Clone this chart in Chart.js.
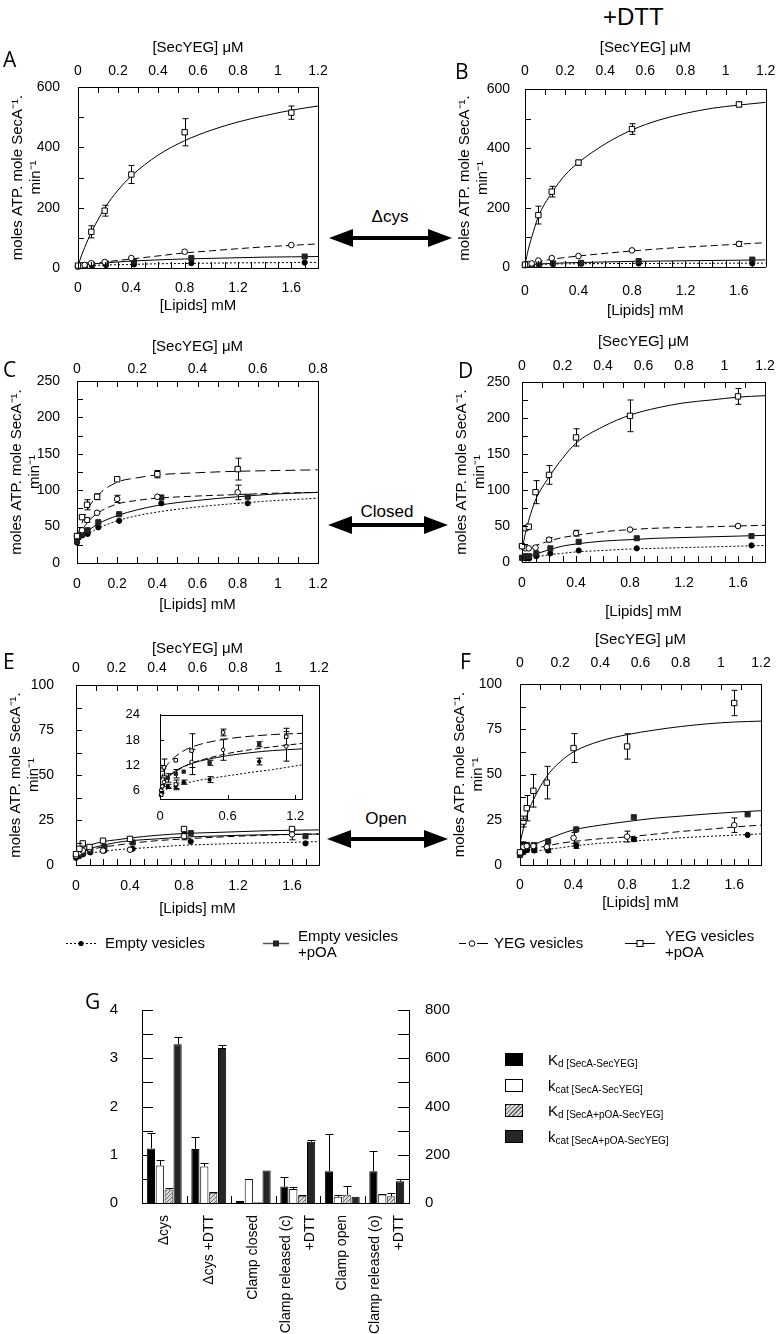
<!DOCTYPE html>
<html><head><meta charset="utf-8">
<script src="https://cdn.jsdelivr.net/npm/chart.js@4/dist/chart.umd.min.js"></script>
<style>
body{margin:0;background:#fff;width:777px;height:1334px;position:relative;overflow:hidden;font-family:'Liberation Sans',Arial,sans-serif;color:#000}
canvas{position:absolute}
.t{position:absolute;white-space:nowrap;line-height:1}
.let{position:absolute;font-family:'Open Sans','Liberation Sans',sans-serif;font-size:21px;line-height:1}
.lg{position:absolute;font-size:15px;line-height:16px;white-space:nowrap}
.gl{position:absolute;left:548px;white-space:nowrap;line-height:1}
.gl .b{font-size:15px}.gl sub{font-size:10px;vertical-align:-2px}
.sq{position:absolute;left:505px;width:18px;height:13px;box-sizing:border-box;border:1px solid #000}
</style></head><body>
<script>
// ---------- shared x values ----------
const xEmpty = [0, 0.027, 0.053, 0.106, 0.21, 0.42, 0.85, 1.7];
const xYEG   = [0, 0.025, 0.05, 0.1, 0.2, 0.4, 0.8, 1.6];
const fitX   = [0, 0.025, 0.05, 0.1, 0.2, 0.3, 0.4, 0.6, 0.8, 1.0, 1.2, 1.4, 1.6, 1.8];

// ---------- Panel A ----------
const aEmpty = [5, 6, 7, 8, 10, 12, 16, 18];
const aEmptyPOA = [6, 8, 9, 11, 15, 22, 33, 38];
const aYEG = [5, 8, 10, 16, 20, 33, 54, 76];
const aYEGPOA = [8, null, null, 120, 190, 310, 450, 515];
const aYEGPOAErr = [0, 0, 0, 20, 18, 30, 45, 22];
const aFitEmpty = [5, 6, 7, 8, 10, 11, 12, 14, 15, 16, 17, 17.5, 18, 18.5];
const aFitEmptyPOA = [6, 8, 10, 13, 17, 20, 23, 27, 30, 32, 34, 36, 37, 38];
const aFitYEG = [5, 7, 9, 13, 20, 25, 30, 40, 50, 57, 64, 70, 75, 80];
const aFitYEGPOA = [8, 40, 68, 118, 198, 258, 305, 374, 422, 457, 484, 505, 523, 537];

// ---------- Panel B ----------
const bEmpty = [6, 7, 8, 9, 10, 11, 12, 12];
const bEmptyPOA = [6, 7, 8, 10, 12, 14, 20, 25];
const bYEG = [8, 10, 12, 22, 30, 37, 56, 78];
const bYEGErr = [0, 0, 0, 0, 0, 0, 0, 8];
const bYEGPOA = [8, null, null, 175, 254, 352, 465, 548];
const bYEGPOAErr = [0, 0, 0, 30, 18, 8, 18, 8];
const bFitEmpty = [6, 7, 8, 9, 10, 10.5, 11, 11.5, 12, 12, 12.5, 12.5, 13, 13];
const bFitEmptyPOA = [6, 7, 8, 10, 12, 14, 15, 17, 19, 20, 21, 22, 23, 24];
const bFitYEG = [8, 10, 13, 18, 26, 32, 37, 46, 54, 61, 67, 72, 77, 82];
const bFitYEGPOA = [8, 60, 100, 170, 250, 310, 352, 415, 462, 495, 518, 535, 546, 555];

// ---------- Panel C ----------
const cEmpty = [28, 38, 40, 49, 58, 82, 82, null];
const cEmptyPOA = [30, 40, 45, 56, 67, 90, 91, null];
const cYEG = [37, 45, 59, 69, 88, 91, 97, null];
const cYEGErr = [0, 0, 3, 0, 5, 0, 10, 0];
const cYEGPOA = [37, 63, 80, 91, 115, 122, 129, null];
const cYEGPOAErr = [0, 0, 7, 4, 0, 5, 15, 0];
const cFitEmpty = [28, 34, 39, 47, 58, 65, 70, 77, 82, 86, 89];
const cFitEmptyPOA = [28, 36, 43, 53, 65, 73, 79, 86, 91, 95, 97];
const cFitYEG = [35, 45, 55, 68, 81, 86, 89, 92, 94, 96, 97];
const cFitYEGPOA = [35, 55, 72, 92, 111, 117, 121, 124, 126, 127, 128];

// ---------- Panel D ----------
const dEmpty = [5, 5, 5, 8, 12, 16, 19, 23];
const dEmptyPOA = [6, 8, 8, 12, 19, 28, 33, 36];
const dYEG = [22, 19, 19, 20, 31, 40, 45, 50];
const dYEGErr = [0, 0, 0, 0, 3, 4, 0, 0];
const dYEGPOA = [22, 47, 49, 97, 121, 173, 203, 230];
const dYEGPOAErr = [0, 0, 0, 16, 13, 12, 22, 11];
const dFitEmpty = [4, 5, 6, 7, 10, 12, 14, 16, 18, 19, 20, 21, 22, 23];
const dFitEmptyPOA = [6, 7, 8, 11, 17, 22, 25, 29, 31, 33, 34, 35, 36, 37];
const dFitYEG = [18, 19, 20, 23, 29, 34, 37, 42, 45, 47, 48, 49, 50, 51];
const dFitYEGPOA = [17, 40, 58, 86, 118, 144, 165, 188, 204, 214, 221, 225, 229, 231];

// ---------- Panel E ----------
const eEmpty = [4, 5, 6, 7, 8, 9, 13, 12];
const eEmptyPOA = [5, 6, 7, 8, 10, 12.5, 17.7, 16];
const eYEG = [5, 7, 8, 9, 8, 8.5, 16, 17];
const eYEGErr = [0, 0, 0, 0, 0, 0, 2, 3];
const eYEGPOA = [6, 9, 12, 10, 13.5, 14.5, 20, 20];
const eFitEmpty = [4, 5, 5.5, 6.5, 7.5, 8.5, 9, 10, 11, 11.5, 12, 12.3, 12.6, 13];
const eFitEmptyPOA = [5, 6.5, 7.5, 9, 11, 12.5, 13.5, 14.5, 15.5, 16, 16.5, 16.8, 17, 17.2];
const eFitYEG = [5, 6.5, 7.5, 8.5, 10, 11, 12, 13.5, 14.5, 15.3, 16, 16.5, 17, 17.2];
const eFitYEGPOA = [6, 8, 9.5, 11, 13, 14, 15, 16.5, 17.5, 18, 18.5, 19, 19.3, 19.5];

// ---------- Panel E inset ----------
const insetYTicks = [6, 12, 18, 24];
const insetXTicks = [0, 0.6, 1.2];
const insetFitX = [0, 0.05, 0.1, 0.2, 0.3, 0.4, 0.6, 0.8, 1.0, 1.26];
const insetFitYEGPOA = [8, 11.5, 13.2, 15.3, 16.5, 17.3, 18.3, 18.9, 19.3, 19.6];
const insetFitEmptyPOA = [6, 8.5, 9.8, 11.5, 12.7, 13.5, 14.8, 15.7, 16.4, 17.2];
const insetFitYEG = [6, 8.8, 10, 11.6, 12.6, 13.3, 14.3, 15, 15.5, 15.9];
const insetFitEmpty = [5, 6.2, 6.8, 7.6, 8.2, 8.7, 9.5, 10.3, 11, 12.1];
const insetXOpen = [0.01, 0.02, 0.035, 0.14, 0.28, 0.56, 1.12];
const insetYEGPOA = [5, 11, 11.5, 13.2, 15.5, 19.8, 18.8];
const insetYEGPOAErr = [0, 0, 2, 0, 4, 0.8, 2];
const insetYEG = [6, 7, 8, 7.5, 12.8, 15.7, 16.5];
const insetYEGErr = [0, 0, 1, 1, 3, 2.5, 3.5];
const insetXFilled = [0.01, 0.02, 0.07, 0.14, 0.21, 0.44, 0.88];
const insetEmptyPOA = [6, 7, 9, 10, 10.5, 12.6, 17];
const insetEmptyPOAErr = [0, 0, 1, 1, 0, 0.6, 0.6];
const insetEmpty = [5, 5.5, 7, 7, 8, 8.6, 12.9];
const insetEmptyErr = [0, 0, 0.5, 0.8, 0.5, 0.7, 0.8];

// ---------- Panel F ----------
const fEmpty = [6.5, 7, 8.3, 8, 8, 10.7, 14.2, 16.6];
const fEmptyErr = [0, 0, 0, 1, 1, 1.5, 1, 0];
const fEmptyPOA = [5.5, 11.4, 11, 11, 13, 19.7, 26.4, 28];
const fYEG = [7, 10, 10.5, 10.5, 10, 15, 15.7, 22];
const fYEGErr = [0, 0, 0, 1, 1, 3, 3, 4];
const fYEGPOA = [7, 24, 31.4, 41, 45.5, 64.6, 65.5, 89.5];
const fYEGPOAErr = [0, 3, 7, 9, 9, 8, 7, 7];
const fFitEmpty = [6, 6.5, 7, 7.5, 8.5, 9.5, 10.5, 12, 13, 14, 15, 15.8, 16.5, 17.2];
const fFitEmptyPOA = [6, 7.5, 9, 11, 14.2, 17, 19.4, 22, 24, 25.8, 27, 28.2, 29.2, 30];
const fFitYEG = [7, 7.5, 8, 9, 10.5, 12, 13, 14.5, 15.5, 17, 18.5, 19.7, 21, 22];
const fFitYEGPOA = [12, 20, 27, 36, 49, 57, 62.5, 68.5, 72, 74.5, 76.5, 78, 79, 79.5];

// ---------- Panel G ----------
const gCategories = ['\u0394cys', '\u0394cys +DTT', 'Clamp closed', ['Clamp released (c)', '+DTT'], 'Clamp open', ['Clamp released (o)', '+DTT']];
const gKd = [1.13, 1.12, 0.04, 0.34, 0.66, 0.66];
const gKdErr = [1.45, 1.37, null, 0.54, 1.43, 1.07];
const gKcat = [155, 151, 100, 58, 26, 35];
const gKcatErr = [177, 166, null, 68, 32, 39];
const gKdPOA = [0.28, 0.21, 0.02, 0.15, 0.17, 0.14];
const gKdPOAErr = [0.31, 0.22, null, 0.16, 0.35, 0.21];
const gKcatPOA = [658, 642, 135, 254, 26, 90];
const gKcatPOAErr = [688, 656, null, 262, null, 100];

// ================= drawing =================
const FAM = "'Liberation Sans', Arial, sans-serif";
Chart.defaults.font.family = FAM;
Chart.defaults.color = '#000';

function tickLoop(sc, step, f) {
  if (!sc || !step) return;
  if (Array.isArray(step)) { step.forEach(f); return; }
  const n = Math.round((sc.max - sc.min) / step + 1e-6);
  for (let i = 0; i <= n; i++) f(sc.min + i * step);
}
const framePlugin = {
  id: 'frame',
  afterDatasetsDraw(chart, args, o) {
    const { ctx, chartArea: a, scales: s } = chart;
    ctx.save(); ctx.strokeStyle = '#000'; ctx.lineWidth = 1;
    ctx.beginPath();
    ctx.moveTo(Math.round(a.right) + 0.5, a.top); ctx.lineTo(Math.round(a.right) + 0.5, a.bottom);
    if (o.top) { ctx.moveTo(a.left, Math.round(a.top) + 0.5); ctx.lineTo(a.right, Math.round(a.top) + 0.5); }
    const L = o.len || 6, m = o.minor || {};
    tickLoop(s.x, m.x, v => { const p = Math.round(s.x.getPixelForValue(v)) + 0.5; ctx.moveTo(p, a.bottom); ctx.lineTo(p, a.bottom - L); });
    tickLoop(s.x2, m.x2, v => { const p = Math.round(s.x2.getPixelForValue(v)) + 0.5; ctx.moveTo(p, a.top); ctx.lineTo(p, a.top + L); });
    tickLoop(s.y, m.y, v => { const p = Math.round(s.y.getPixelForValue(v)) + 0.5; ctx.moveTo(a.left, p); ctx.lineTo(a.left + L, p); });
    ctx.stroke(); ctx.restore();
  }
};
const errPlugin = {
  id: 'errbars',
  beforeDatasetsDraw(chart) {
    const ctx = chart.ctx; ctx.save(); ctx.strokeStyle = '#000'; ctx.lineWidth = 1;
    chart.data.datasets.forEach((ds, i) => {
      const meta = chart.getDatasetMeta(i); const ys = chart.scales[meta.yAxisID];
      if (ds.err) ds.data.forEach((p, j) => {
        const e = ds.err[j]; if (!e || p.y == null) return;
        const x = Math.round(meta.data[j].x) + 0.5;
        const t = ys.getPixelForValue(p.y + e), b = ys.getPixelForValue(p.y - e);
        ctx.beginPath(); ctx.moveTo(x, t); ctx.lineTo(x, b);
        ctx.moveTo(x - 3, t); ctx.lineTo(x + 3, t); ctx.moveTo(x - 3, b); ctx.lineTo(x + 3, b); ctx.stroke();
      });
      if (ds.errTop) ds.data.forEach((v, j) => {
        const e = ds.errTop[j]; if (e == null) return;
        const el = meta.data[j]; const x = Math.round(el.x) + 0.5;
        const t = Math.round(ys.getPixelForValue(e)) + 0.5, b = ys.getPixelForValue(v);
        ctx.beginPath(); ctx.moveTo(x, b); ctx.lineTo(x, t); ctx.moveTo(x - 4, t); ctx.lineTo(x + 4, t); ctx.stroke();
      });
    });
    ctx.restore();
  }
};

const STY = {
  empty:    { ps: 'circle', r: 2.6, bg: '#000', bc: '#000', dash: [2, 2] },
  emptyPOA: { ps: 'rect',   r: 3.6, bg: '#222', bc: '#222', dash: [] },
  yeg:      { ps: 'circle', r: 2.8, bg: '#fff', bc: '#000', dash: [7, 4] },
  yegPOA:   { ps: 'rect',   r: 3.8, bg: '#fff', bc: '#000', dash: [] }
};
function sets(st, xs, ys, err, fxs, fys, dash) {
  const s = STY[st];
  return [
    { data: ys.map((y, i) => ({ x: xs[i], y: y })), err: err || null, showLine: false, clip: false,
      pointStyle: s.ps, pointRadius: s.r, pointBackgroundColor: s.bg, pointBorderColor: s.bc, pointBorderWidth: 1, order: 0 },
    { data: fys.map((y, i) => ({ x: fxs[i], y: y })), showLine: true, pointRadius: 0, borderColor: '#000', borderWidth: 1,
      borderDash: dash || s.dash, cubicInterpolationMode: 'monotone', fill: false, order: 1 }
  ];
}
const fmt = v => String(+(+v).toFixed(2));

function mkCanvas(l, t, w, h) {
  const c = document.createElement('canvas');
  c.width = w; c.height = h;
  c.style.left = l + 'px'; c.style.top = t + 'px'; c.style.width = w + 'px'; c.style.height = h + 'px';
  document.body.appendChild(c); return c;
}

function panel(cfg) {
  const a = cfg.area;
  const l = a.l - 78, t = a.t - (cfg.tt + 14), r = a.r + cfg.pr, b = a.b + cfg.bt + 14;
  const c = mkCanvas(l, t, r - l, b - t);
  const TF = { family: FAM, size: 14 }, HF = { family: FAM, size: 15 };
  new Chart(c, {
    type: 'scatter',
    data: { datasets: cfg.ds },
    options: {
      responsive: false, animation: false, devicePixelRatio: 1, events: [],
      layout: { padding: { left: 0, top: 0, right: cfg.pr, bottom: 0 } },
      plugins: { legend: { display: false }, tooltip: { enabled: false }, frame: { minor: cfg.minor } },
      scales: {
        x: { type: 'linear', position: 'bottom', min: 0, max: cfg.xMax, grid: { display: false }, border: { color: '#000' },
             ticks: { stepSize: cfg.xStep, includeBounds: false, font: TF, color: '#000', padding: (cfg.bl - 10) / 2, maxRotation: 0, callback: fmt },
             title: { display: true, text: '[Lipids] mM', font: HF, color: '#000', padding: { top: 0, bottom: 5 } },
             afterFit: s => { s.height = cfg.bt + 14; } },
        x2: { type: 'linear', position: 'top', min: 0, max: cfg.x2Max, grid: { display: false }, border: { color: '#000' },
             ticks: { stepSize: cfg.x2Step, includeBounds: false, font: TF, color: '#000', padding: cfg.tl - 17.4, maxRotation: 0, callback: fmt },
             title: { display: true, text: '[SecYEG] \u03bcM', font: HF, color: '#000', padding: { top: 5, bottom: 0 } },
             afterFit: s => { s.height = cfg.tt + 14; } },
        y: { type: 'linear', position: 'left', min: 0, max: cfg.yMax, grid: { display: false }, border: { color: '#000' },
             ticks: { stepSize: cfg.yStep, font: TF, color: '#000', padding: cfg.yp, callback: fmt },
             title: { display: true, text: ['moles ATP. mole SecA\u207b\u00b9.', 'min\u207b\u00b9'], font: HF, color: '#000', padding: { top: 9, bottom: 0 } },
             afterFit: s => { s.width = 78; } }
      }
    },
    plugins: [framePlugin, errPlugin]
  });
}

const std = (E, EP, Y, YP, fE, fEP, fY, fYP, errs, yDash) => [
  ...sets('yegPOA', xYEG, YP, errs.YP, fitX, fYP, yDash && yDash.YP),
  ...sets('yeg', xYEG, Y, errs.Y, fitX, fY),
  ...sets('emptyPOA', xEmpty, EP, errs.EP, fitX, fEP),
  ...sets('empty', xEmpty, E, errs.E, fitX, fE)
];

panel({ area: { l: 78, t: 87, r: 318, b: 268 }, tt: 39, tl: 17, bl: 18, bt: 38, yp: 10, pr: 27,
  xMax: 1.8, xStep: 0.4, x2Max: 1.2, x2Step: 0.2, yMax: 600, yStep: 200, minor: { x: 0.1, x2: 0.1, y: 100 },
  ds: std(aEmpty, aEmptyPOA, aYEG, aYEGPOA, aFitEmpty, aFitEmptyPOA, aFitYEG, aFitYEGPOA, { YP: aYEGPOAErr }) });
panel({ area: { l: 525, t: 89, r: 766, b: 267 }, tt: 41, tl: 19, bl: 26, bt: 44, yp: 7, pr: 11,
  xMax: 1.8, xStep: 0.4, x2Max: 1.2, x2Step: 0.2, yMax: 600, yStep: 200, minor: { x: 0.1, x2: 0.1, y: 100 },
  ds: std(bEmpty, bEmptyPOA, bYEG, bYEGPOA, bFitEmpty, bFitEmptyPOA, bFitYEG, bFitYEGPOA, { YP: bYEGPOAErr, Y: bYEGErr }) });
panel({ area: { l: 77, t: 381, r: 318, b: 563 }, tt: 34, tl: 13, bl: 20, bt: 42, yp: 9, pr: 27,
  xMax: 1.2, xStep: 0.2, x2Max: 0.8, x2Step: 0.2, yMax: 250, yStep: 50, minor: { x: 0.1, x2: 0.2 / 3, y: 25 },
  ds: std(cEmpty, cEmptyPOA, cYEG, cYEGPOA, cFitEmpty, cFitEmptyPOA, cFitYEG, cFitYEGPOA, { YP: cYEGPOAErr, Y: cYEGErr }, { YP: [10, 5] }) });
panel({ area: { l: 522, t: 382, r: 765, b: 562 }, tt: 40, tl: 17, bl: 19, bt: 50, yp: 4, pr: 12,
  xMax: 1.8, xStep: 0.4, x2Max: 1.2, x2Step: 0.2, yMax: 250, yStep: 50, minor: { x: 0.1, x2: 0.1, y: 25 },
  ds: std(dEmpty, dEmptyPOA, dYEG, dYEGPOA, dFitEmpty, dFitEmptyPOA, dFitYEG, dFitYEGPOA, { YP: dYEGPOAErr, Y: dYEGErr }) });
panel({ area: { l: 76, t: 685, r: 319, b: 865 }, tt: 36, tl: 18, bl: 20, bt: 44, yp: 14, pr: 27,
  xMax: 1.8, xStep: 0.4, x2Max: 1.2, x2Step: 0.2, yMax: 100, yStep: 25, minor: { x: 0.1, x2: 0.1, y: 12.5 },
  ds: std(eEmpty, eEmptyPOA, eYEG, eYEGPOA, eFitEmpty, eFitEmptyPOA, eFitYEG, eFitYEGPOA, { Y: eYEGErr }) });
panel({ area: { l: 520, t: 684, r: 761, b: 865 }, tt: 44, tl: 22, bl: 17, bt: 38, yp: 10, pr: 16,
  xMax: 1.8, xStep: 0.4, x2Max: 1.2, x2Step: 0.2, yMax: 100, yStep: 25, minor: { x: 0.1, x2: 0.1, y: 12.5 },
  ds: std(fEmpty, fEmptyPOA, fYEG, fYEGPOA, fFitEmpty, fFitEmptyPOA, fFitYEG, fFitYEGPOA, { YP: fYEGPOAErr, Y: fYEGErr, E: fEmptyErr }) });

// ----- inset of E -----
(function () {
  const area = { l: 160, t: 703, r: 302, b: 799 };
  const c = mkCanvas(area.l - 40, area.t - 8, (area.r + 8) - (area.l - 40), (area.b + 31) - (area.t - 8));
  const TF = { family: FAM, size: 13 };
  const ds = [
    ...sets('yegPOA', insetXOpen, insetYEGPOA, insetYEGPOAErr, insetFitX, insetFitYEGPOA, [9, 4]),
    ...sets('yeg', insetXOpen, insetYEG, insetYEGErr, insetFitX, insetFitYEG, []),
    ...sets('emptyPOA', insetXFilled, insetEmptyPOA, insetEmptyPOAErr, insetFitX, insetFitEmptyPOA, [6, 3]),
    ...sets('empty', insetXFilled, insetEmpty, insetEmptyErr, insetFitX, insetFitEmpty)
  ];
  ds.forEach(d => { if (d.pointRadius) d.pointRadius = d.pointRadius * 0.65; });
  new Chart(c, {
    type: 'scatter', data: { datasets: ds },
    options: {
      responsive: false, animation: false, devicePixelRatio: 1, events: [],
      layout: { padding: { left: 0, top: 8, right: 8, bottom: 0 } },
      plugins: { legend: { display: false }, tooltip: { enabled: false }, frame: { top: true, len: 4, minor: { x: insetXTicks, y: insetYTicks } } },
      scales: {
        x: { type: 'linear', min: 0, max: 1.26, grid: { display: false }, border: { color: '#000' },
             afterBuildTicks: s => { s.ticks = insetXTicks.map(v => ({ value: v })); },
             ticks: { font: TF, color: '#000', padding: 2, maxRotation: 0, callback: fmt }, afterFit: s => { s.height = 31; } },
        y: { type: 'linear', min: 4, max: 24, grid: { display: false }, border: { color: '#000' },
             afterBuildTicks: s => { s.ticks = insetYTicks.map(v => ({ value: v })); },
             ticks: { font: TF, color: '#000', padding: 12, callback: fmt }, afterFit: s => { s.width = 40; } }
      }
    },
    plugins: [framePlugin, errPlugin]
  });
})();

// ----- Panel G -----
(function () {
  const pc = document.createElement('canvas'); pc.width = pc.height = 4;
  const px = pc.getContext('2d'); px.fillStyle = '#d8d8d8'; px.fillRect(0, 0, 4, 4);
  px.strokeStyle = '#666'; px.lineWidth = 1; px.beginPath();
  px.moveTo(-1, 1); px.lineTo(1, -1); px.moveTo(0, 4); px.lineTo(4, 0); px.moveTo(3, 5); px.lineTo(5, 3); px.stroke();
  const hatch = px.createPattern(pc, 'repeat');

  const c = mkCanvas(60, 985, 420, 349);
  const gDecor = {
    id: 'gDecor',
    afterDraw(chart) {
      const { ctx, chartArea: a, scales: { x, y, y2 } } = chart;
      ctx.save(); ctx.strokeStyle = '#000'; ctx.lineWidth = 1; ctx.beginPath();
      tickLoop(y, 0.5, v => { const p = Math.round(y.getPixelForValue(v)) + 0.5; ctx.moveTo(a.left, p); ctx.lineTo(a.left + 11, p); });
      tickLoop(y2, 100, v => { const p = Math.round(y2.getPixelForValue(v)) + 0.5; ctx.moveTo(a.right, p); ctx.lineTo(a.right - 11, p); });
      for (let i = 0; i < gCategories.length - 1; i++) {
        const p = Math.round((x.getPixelForValue(i) + x.getPixelForValue(i + 1)) / 2) + 0.5;
        ctx.moveTo(p, a.bottom); ctx.lineTo(p, a.bottom - 7);
      }
      ctx.stroke();
      ctx.fillStyle = '#000'; ctx.font = '14px ' + FAM; ctx.textAlign = 'right'; ctx.textBaseline = 'middle';
      gCategories.forEach((lab, i) => {
        const lines = Array.isArray(lab) ? lab : [lab];
        const cx = x.getPixelForValue(i);
        lines.forEach((ln, j) => {
          const lx = cx + (j - (lines.length - 1) / 2) * 24;
          ctx.save(); ctx.translate(lx, a.bottom + 12); ctx.rotate(-Math.PI / 2); ctx.fillText(ln, 0, 0); ctx.restore();
        });
      });
      const drawRich = (cxp, cyp, parts) => {
        ctx.save(); ctx.translate(cxp, cyp); ctx.rotate(-Math.PI / 2); ctx.textAlign = 'left'; ctx.textBaseline = 'alphabetic';
        let tot = 0; parts.forEach(p => { ctx.font = p[1] + 'px ' + FAM; p.w = ctx.measureText(p[0]).width; tot += p.w; });
        let xx = -tot / 2;
        parts.forEach(p => { ctx.font = p[1] + 'px ' + FAM; ctx.fillText(p[0], xx, 5 + (p[2] || 0)); xx += p.w; });
        ctx.restore();
      };
      drawRich(107, 1110, [['K', 16], ['d', 11, 3], [' (\u03bcM)', 16]]);
      drawRich(468, 1117, [['k', 16], ['cat', 11, 3], ['(moles ATP. mole SecA', 16], ['-1', 10, -6], ['. min', 16], ['-1', 10, -6], [')', 16]]);
      ctx.restore();
    }
  };
  new Chart(c, {
    type: 'bar',
    data: { labels: gCategories, datasets: [
      { data: gKd, errTop: gKdErr, yAxisID: 'y', backgroundColor: '#000', borderColor: '#000', borderWidth: 1 },
      { data: gKcat, errTop: gKcatErr, yAxisID: 'y2', backgroundColor: '#fff', borderColor: '#000', borderWidth: 1 },
      { data: gKdPOA, errTop: gKdPOAErr, yAxisID: 'y', backgroundColor: hatch, borderColor: '#333', borderWidth: 1 },
      { data: gKcatPOA, errTop: gKcatPOAErr, yAxisID: 'y2', backgroundColor: '#262626', borderColor: '#000', borderWidth: 1 }
    ] },
    options: {
      responsive: false, animation: false, devicePixelRatio: 1, events: [],
      categoryPercentage: 0.8, barPercentage: 0.92,
      layout: { padding: { left: 0, top: 12, right: 0, bottom: 0 } },
      plugins: { legend: { display: false }, tooltip: { enabled: false } },
      scales: {
        x: { grid: { display: false }, border: { color: '#000' }, ticks: { display: false }, afterFit: s => { s.height = 131; } },
        y: { position: 'left', min: 0, max: 4, grid: { display: false }, border: { color: '#000' },
             ticks: { stepSize: 1, font: { family: FAM, size: 15 }, color: '#000', padding: 16 }, afterFit: s => { s.width = 82; } },
        y2: { position: 'right', min: 0, max: 800, grid: { display: false }, border: { color: '#000' },
             ticks: { stepSize: 200, font: { family: FAM, size: 15 }, color: '#000', padding: 8 }, afterFit: s => { s.width = 71; } }
      }
    },
    plugins: [gDecor, errPlugin]
  });
})();
</script>

<!-- annotations -->
<div class="t" style="left:603px;top:5px;font-size:24px">+DTT</div>
<div class="let" style="left:3px;top:49px">A</div>
<div class="let" style="left:455px;top:61px">B</div>
<div class="let" style="left:3px;top:359px">C</div>
<div class="let" style="left:458px;top:360px">D</div>
<div class="let" style="left:3px;top:651px">E</div>
<div class="let" style="left:460px;top:651px">F</div>
<div class="let" style="left:85px;top:991px">G</div>
<div class="t" style="left:390px;top:216px;font-size:17px;transform:translate(-50%,-50%)">&Delta;cys</div>
<div class="t" style="left:387px;top:511px;font-size:17px;transform:translate(-50%,-50%)">Closed</div>
<div class="t" style="left:386px;top:818px;font-size:17px;transform:translate(-50%,-50%)">Open</div>
<svg style="position:absolute;left:0;top:0" width="777" height="1334">
  <g fill="#000">
    <polygon points="329,238 353,229 353,247"/><rect x="352" y="236" width="77" height="4"/><polygon points="452,238 428,229 428,247"/>
    <polygon points="328,525 352,516 352,534"/><rect x="351" y="523" width="74" height="4"/><polygon points="448,525 424,516 424,534"/>
    <polygon points="327,839 351,830 351,848"/><rect x="350" y="837" width="75" height="4"/><polygon points="448,839 424,830 424,848"/>
  </g>
  <line x1="66" y1="943.5" x2="96" y2="943.5" stroke="#000" stroke-dasharray="2,2"/><circle cx="81" cy="943.5" r="2.6" fill="#000"/>
  <line x1="263" y1="943.5" x2="289" y2="943.5" stroke="#555" stroke-width="1.5"/><rect x="273" y="940.5" width="6" height="6" fill="#222"/>
  <line x1="459" y1="943.5" x2="466" y2="943.5" stroke="#000"/><line x1="477" y1="943.5" x2="488" y2="943.5" stroke="#000"/><circle cx="472" cy="943.5" r="2.8" fill="#fff" stroke="#000"/>
  <line x1="625" y1="943.5" x2="655" y2="943.5" stroke="#000"/><rect x="637" y="940.5" width="6" height="6" fill="#fff" stroke="#000"/>
</svg>
<div class="lg" style="left:105px;top:935px">Empty vesicles</div>
<div class="lg" style="left:298px;top:928px">Empty vesicles<br>+pOA</div>
<div class="lg" style="left:494px;top:935px">YEG vesicles</div>
<div class="lg" style="left:665px;top:928px">YEG vesicles<br>+pOA</div>

<div class="sq" style="top:1053px;background:#000"></div>
<div class="sq" style="top:1079px;background:#fff"></div>
<div class="sq" style="top:1104px;background:repeating-linear-gradient(135deg,#666 0 1px,#d8d8d8 1px 3px)"></div>
<div class="sq" style="top:1130px;background:#262626"></div>
<div class="gl" style="top:1052px"><span class="b">K</span><sub>d [SecA-SecYEG]</sub></div>
<div class="gl" style="top:1078px"><span class="b">k</span><sub>cat [SecA-SecYEG]</sub></div>
<div class="gl" style="top:1103px"><span class="b">K</span><sub>d [SecA+pOA-SecYEG]</sub></div>
<div class="gl" style="top:1129px"><span class="b">k</span><sub>cat [SecA+pOA-SecYEG]</sub></div>
</body></html>
